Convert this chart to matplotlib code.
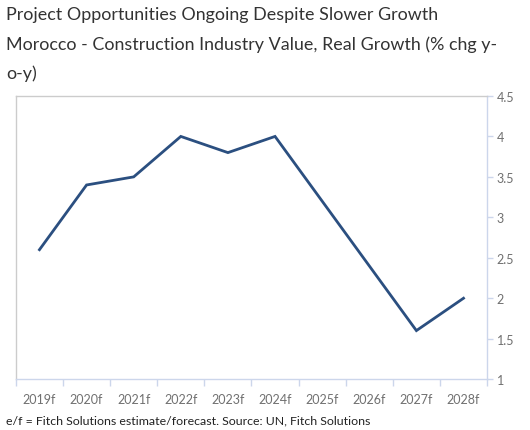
import numpy as np
import matplotlib.pyplot as plt

plt.rcParams['font.family'] = ['Lato', 'DejaVu Sans']

years = ['2019f', '2020f', '2021f', '2022f', '2023f', '2024f', '2025f', '2026f', '2027f', '2028f']
growth = [2.6, 3.4, 3.5, 4.0, 3.8, 4.0, 3.2, 2.4, 1.6, 2.0]
y_ticks = [1, 1.5, 2, 2.5, 3, 3.5, 4, 4.5]
y_labels = ['1', '1.5', '2', '2.5', '3', '3.5', '4', '4.5']

fig = plt.figure(figsize=(5.30, 4.31), dpi=100)
ax = fig.add_axes([0.030, 0.118, 0.889, 0.657])

x = np.arange(len(years))
ax.plot(x, growth, color='#2b4f80', linewidth=2.0, solid_joinstyle='miter')

ax.set_xlim(-0.5, len(years) - 0.5)
ax.set_ylim(1, 4.5)

# category labels centred, tick marks at boundaries
ax.set_xticks(x)
ax.set_xticklabels(years, fontsize=9, color='#707070')
ax.tick_params(axis='x', which='major', length=0, pad=10)
ax.set_xticks(np.arange(-0.5, len(years)), minor=True)
ax.tick_params(axis='x', which='minor', length=5, width=1, color='#ccd6eb', direction='out')

ax.yaxis.tick_right()
ax.set_yticks(y_ticks)
ax.set_yticklabels(y_labels, fontsize=9, color='#707070')
ax.tick_params(axis='y', length=4, width=1, color='#ccd6eb', pad=3)

for side in ['top', 'left']:
    ax.spines[side].set_color('#cccccc')
    ax.spines[side].set_linewidth(1)
for side in ['right', 'bottom']:
    ax.spines[side].set_color('#ccd6eb')
    ax.spines[side].set_linewidth(1)

fig.text(0.011, 0.965, 'Project Opportunities Ongoing Despite Slower Growth',
         fontsize=12.9, color='#333333', va='center')
fig.text(0.011, 0.896, 'Morocco - Construction Industry Value, Real Growth (% chg y-',
         fontsize=12.9, color='#333333', va='center')
fig.text(0.011, 0.830, 'o-y)', fontsize=12.9, color='#333333', va='center')
fig.text(0.011, 0.023, 'e/f = Fitch Solutions estimate/forecast. Source: UN, Fitch Solutions',
         fontsize=8.9, color='#222222', va='center')

fig.savefig('out.png', dpi=100)
